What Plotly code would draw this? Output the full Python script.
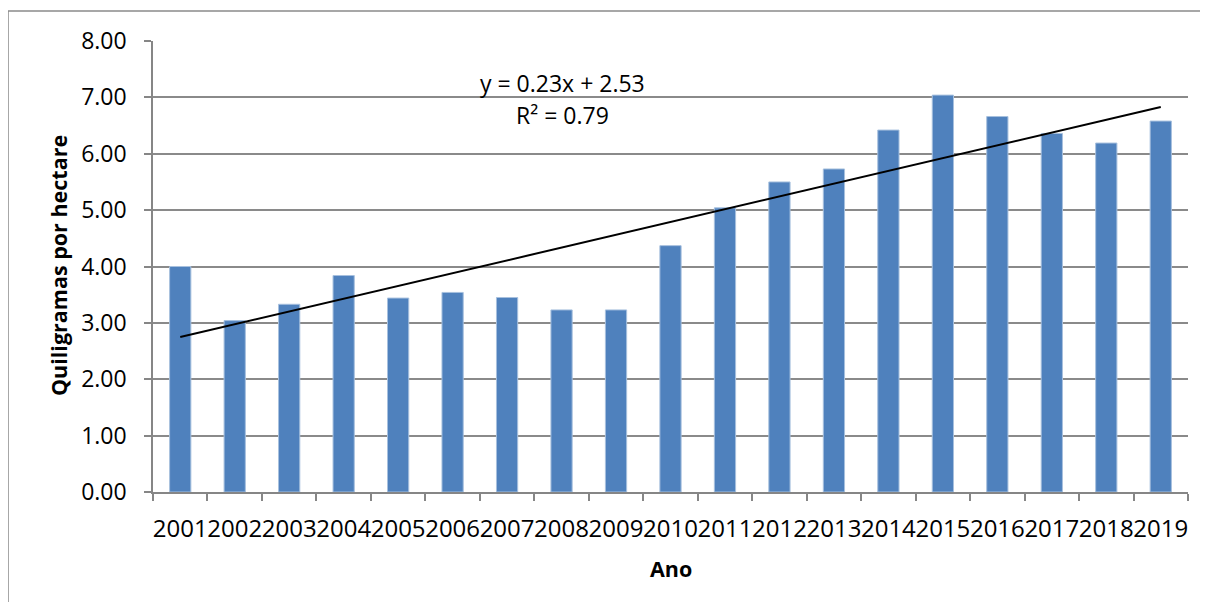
import numpy as np
import plotly.graph_objects as go

years = ["2001", "2002", "2003", "2004", "2005", "2006", "2007", "2008", "2009", "2010",
         "2011", "2012", "2013", "2014", "2015", "2016", "2017", "2018", "2019"]
values = [4.00, 3.04, 3.33, 3.84, 3.44, 3.54, 3.45, 3.23, 3.23, 4.37,
          5.04, 5.50, 5.73, 6.42, 7.04, 6.66, 6.36, 6.19, 6.58]
y_ticks = [0, 1, 2, 3, 4, 5, 6, 7, 8]
equation_text = "y = 0.23x + 2.53"
r2_text = "R² = 0.79"
x_title = "Ano"
y_title = "Quiligramas por hectare"

xi = np.arange(1, len(values) + 1)
slope, intercept = np.polyfit(xi, values, 1)
trend = slope * xi + intercept

FONT = "Open Sans"
OFF = 8  # page body margin
W, H = 1208 - 2 * OFF, 610 - 2 * OFF
L = 153 - OFF
T = 41 - OFF
R = W - (1188 - OFF)
B = H - (492 - OFF)
PW, PH = W - L - R, H - T - B


def px(x):
    return (x - OFF - L) / PW


def py(y):
    return (H - B - (y - OFF)) / PH


fig = go.Figure()
fig.add_trace(go.Bar(
    x=years, y=values,
    marker=dict(color="#4F81BD", line=dict(color="#A7C0DE", width=1)),
    showlegend=False,
))
fig.add_trace(go.Scatter(
    x=years, y=trend, mode="lines",
    line=dict(color="black", width=2),
    showlegend=False,
))

border = dict(color="#8A8A8A", width=1.5)
fig.update_layout(
    width=W, height=H,
    margin=dict(l=L, r=R, t=T, b=B),
    paper_bgcolor="white", plot_bgcolor="white",
    bargap=0.61,
    font=dict(family=FONT, color="black"),
    xaxis=dict(
        type="category", categoryorder="array", categoryarray=years,
        range=[-0.5, len(years) - 0.5],
        automargin=False,
        showgrid=False,
        showline=True, linecolor="#868686", linewidth=1.5,
        ticks="outside", tickson="boundaries", ticklen=7, tickcolor="#868686", tickwidth=1.5,
        tickangle=0, ticklabelstandoff=14,
        tickfont=dict(size=24, family=FONT),
    ),
    yaxis=dict(
        range=[0, 8], tickvals=y_ticks, tickformat=".2f",
        automargin=False,
        showgrid=True, gridcolor="#8A8A8A", gridwidth=2,
        showline=True, linecolor="#868686", linewidth=1.5,
        ticks="outside", ticklen=7, tickcolor="#868686", tickwidth=1.5,
        ticklabelstandoff=13,
        tickfont=dict(size=23, family=FONT),
        zeroline=False,
    ),
    shapes=[
        dict(type="line", xref="paper", yref="paper", x0=px(8), x1=px(1208), y0=py(11), y1=py(11),
             line=border, layer="below"),
        dict(type="line", xref="paper", yref="paper", x0=px(8), x1=px(8), y0=py(11), y1=py(610),
             line=border, layer="below"),
    ],
    annotations=[
        dict(text=equation_text, x=px(562), y=py(83), xref="paper", yref="paper",
             showarrow=False, font=dict(size=23, family=FONT), xanchor="center", yanchor="middle"),
        dict(text=r2_text, x=px(562), y=py(115), xref="paper", yref="paper",
             showarrow=False, font=dict(size=23, family=FONT), xanchor="center", yanchor="middle"),
        dict(text="<b>" + y_title + "</b>", x=px(58), y=py(266), xref="paper", yref="paper",
             showarrow=False, textangle=-90, font=dict(size=21.5, family=FONT),
             xanchor="center", yanchor="middle"),
        dict(text="<b>" + x_title + "</b>", x=px(671), y=py(568), xref="paper", yref="paper",
             showarrow=False, font=dict(size=21.5, family=FONT),
             xanchor="center", yanchor="middle"),
    ],
)

fig.write_html("out.html")
